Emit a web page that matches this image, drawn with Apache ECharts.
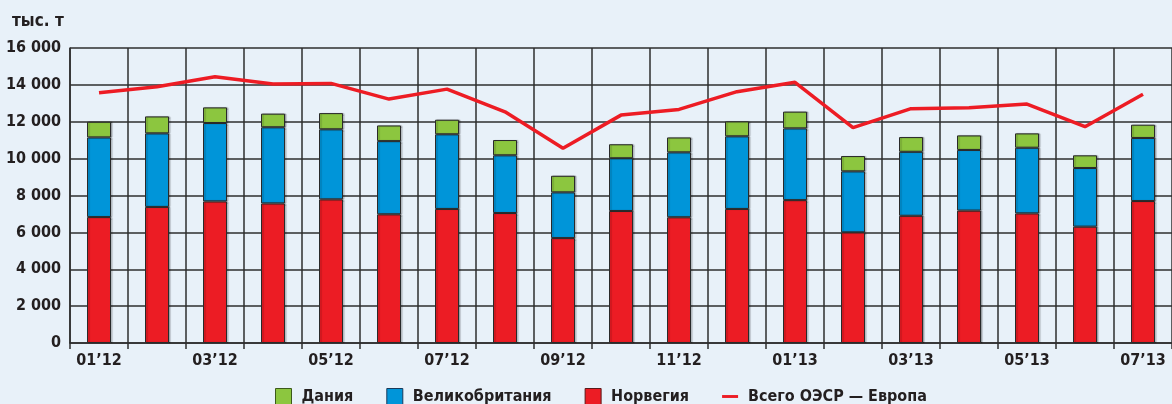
<!DOCTYPE html>
<html>
<head>
<meta charset="utf-8">
<script src="https://cdn.jsdelivr.net/npm/echarts@6/dist/echarts.min.js"></script>
<style>
    html, body { margin: 0; padding: 0; background: #e8f1f9; }
    #chart { width: 1172px; height: 404px; }
</style>
</head>
<body>
<div id="chart"></div>
<script>
const months = ["01’12", "02’12", "03’12", "04’12", "05’12", "06’12", "07’12", "08’12", "09’12", "10’12",
    "11’12", "12’12", "01’13", "02’13", "03’13", "04’13", "05’13", "06’13", "07’13"];
const norway = [6830, 7380, 7680, 7570, 7790, 6980, 7270, 7050, 5690, 7160, 6820, 7270, 7750, 6000, 6900, 7180, 7030, 6310, 7700];
const uk = [4320, 3990, 4250, 4130, 3800, 3970, 4050, 3130, 2480, 2860, 3520, 3940, 3890, 3310, 3470, 3290, 3560, 3180, 3420];
const denmark = [850, 920, 850, 740, 880, 850, 790, 830, 900, 760, 810, 810, 910, 830, 800, 790, 780, 690, 720];
const oecdEurope = [13570, 13900, 14440, 14050, 14080, 13230, 13770, 12540, 10560, 12360, 12670, 13630, 14140, 11680, 12710, 12760, 12960, 11730, 13490];

const font = "'Liberation Sans Narrow', 'DejaVu Sans Condensed', sans-serif";
const gridColor = "#2e2e2e";
const textColor = "#231f20";

const barStyle = (color) => ({
    color: color,
    borderColor: "#2a2a2a",
    borderWidth: 1,
    shadowColor: "rgba(0,0,0,0.25)",
    shadowOffsetX: 1.5,
    shadowBlur: 1,
});

const chart = echarts.init(document.getElementById("chart"));
chart.setOption({
    animation: false,
    backgroundColor: "#e8f1f9",
    textStyle: { fontFamily: font, fontWeight: "bold", color: textColor },
    title: {
        text: "тыс. т",
        left: 7,
        top: 8,
        textStyle: { fontFamily: font, fontWeight: "bold", fontSize: 17, color: textColor },
    },
    legend: {
        left: 275,
        top: 388,
        padding: 0,
        itemWidth: 16,
        itemHeight: 16,
        itemGap: 33,
        textStyle: { fontFamily: font, fontWeight: "bold", fontSize: 16, color: textColor, padding: [0, 0, 0, 5] },
        data: [
            { name: "Дания", icon: "rect", itemStyle: { borderColor: "#3c5a1a", borderWidth: 1 } },
            { name: "Великобритания", icon: "rect", itemStyle: { borderColor: "#1a3a5a", borderWidth: 1 } },
            { name: "Норвегия", icon: "rect", itemStyle: { borderColor: "#5a1a1a", borderWidth: 1 } },
            { name: "Всего ОЭСР — Европа", icon: "path://M0,0h22v4h-22z" },
        ],
    },
    grid: { left: 70, top: 48, width: 1112, height: 295 },
    xAxis: {
        type: "category",
        data: months,
        axisLine: { lineStyle: { color: gridColor, width: 1.5 } },
        axisTick: { show: true, interval: 0, length: 6, lineStyle: { color: gridColor, width: 1.5 } },
        splitLine: { show: true, interval: 0, lineStyle: { color: gridColor, width: 1.5 } },
        axisLabel: { interval: 1, fontSize: 16, margin: 10, color: textColor, fontFamily: font, fontWeight: "bold" },
    },
    yAxis: {
        type: "value",
        min: 0,
        max: 16000,
        interval: 2000,
        axisLine: { show: true, lineStyle: { color: gridColor, width: 1.5 } },
        axisTick: { show: false },
        splitLine: { lineStyle: { color: gridColor, width: 1.5 } },
        axisLabel: {
            fontSize: 16,
            margin: 9,
            color: textColor,
            fontFamily: font,
            fontWeight: "bold",
            formatter: (v) => (v === 0 ? "0" : v / 1000 + " 000"),
        },
    },
    series: [
        { name: "Норвегия", type: "bar", stack: "total", barWidth: 24, data: norway, itemStyle: barStyle("#ec1c24") },
        { name: "Великобритания", type: "bar", stack: "total", barWidth: 24, data: uk, itemStyle: barStyle("#0095d9") },
        { name: "Дания", type: "bar", stack: "total", barWidth: 24, data: denmark, itemStyle: barStyle("#8cc63f") },
        {
            name: "Всего ОЭСР — Европа",
            type: "line",
            data: oecdEurope,
            symbol: "none",
            z: 5,
            lineStyle: { color: "#ed1c24", width: 3.5 },
            itemStyle: { color: "#ed1c24" },
        },
    ],
});
</script>
</body>
</html>
